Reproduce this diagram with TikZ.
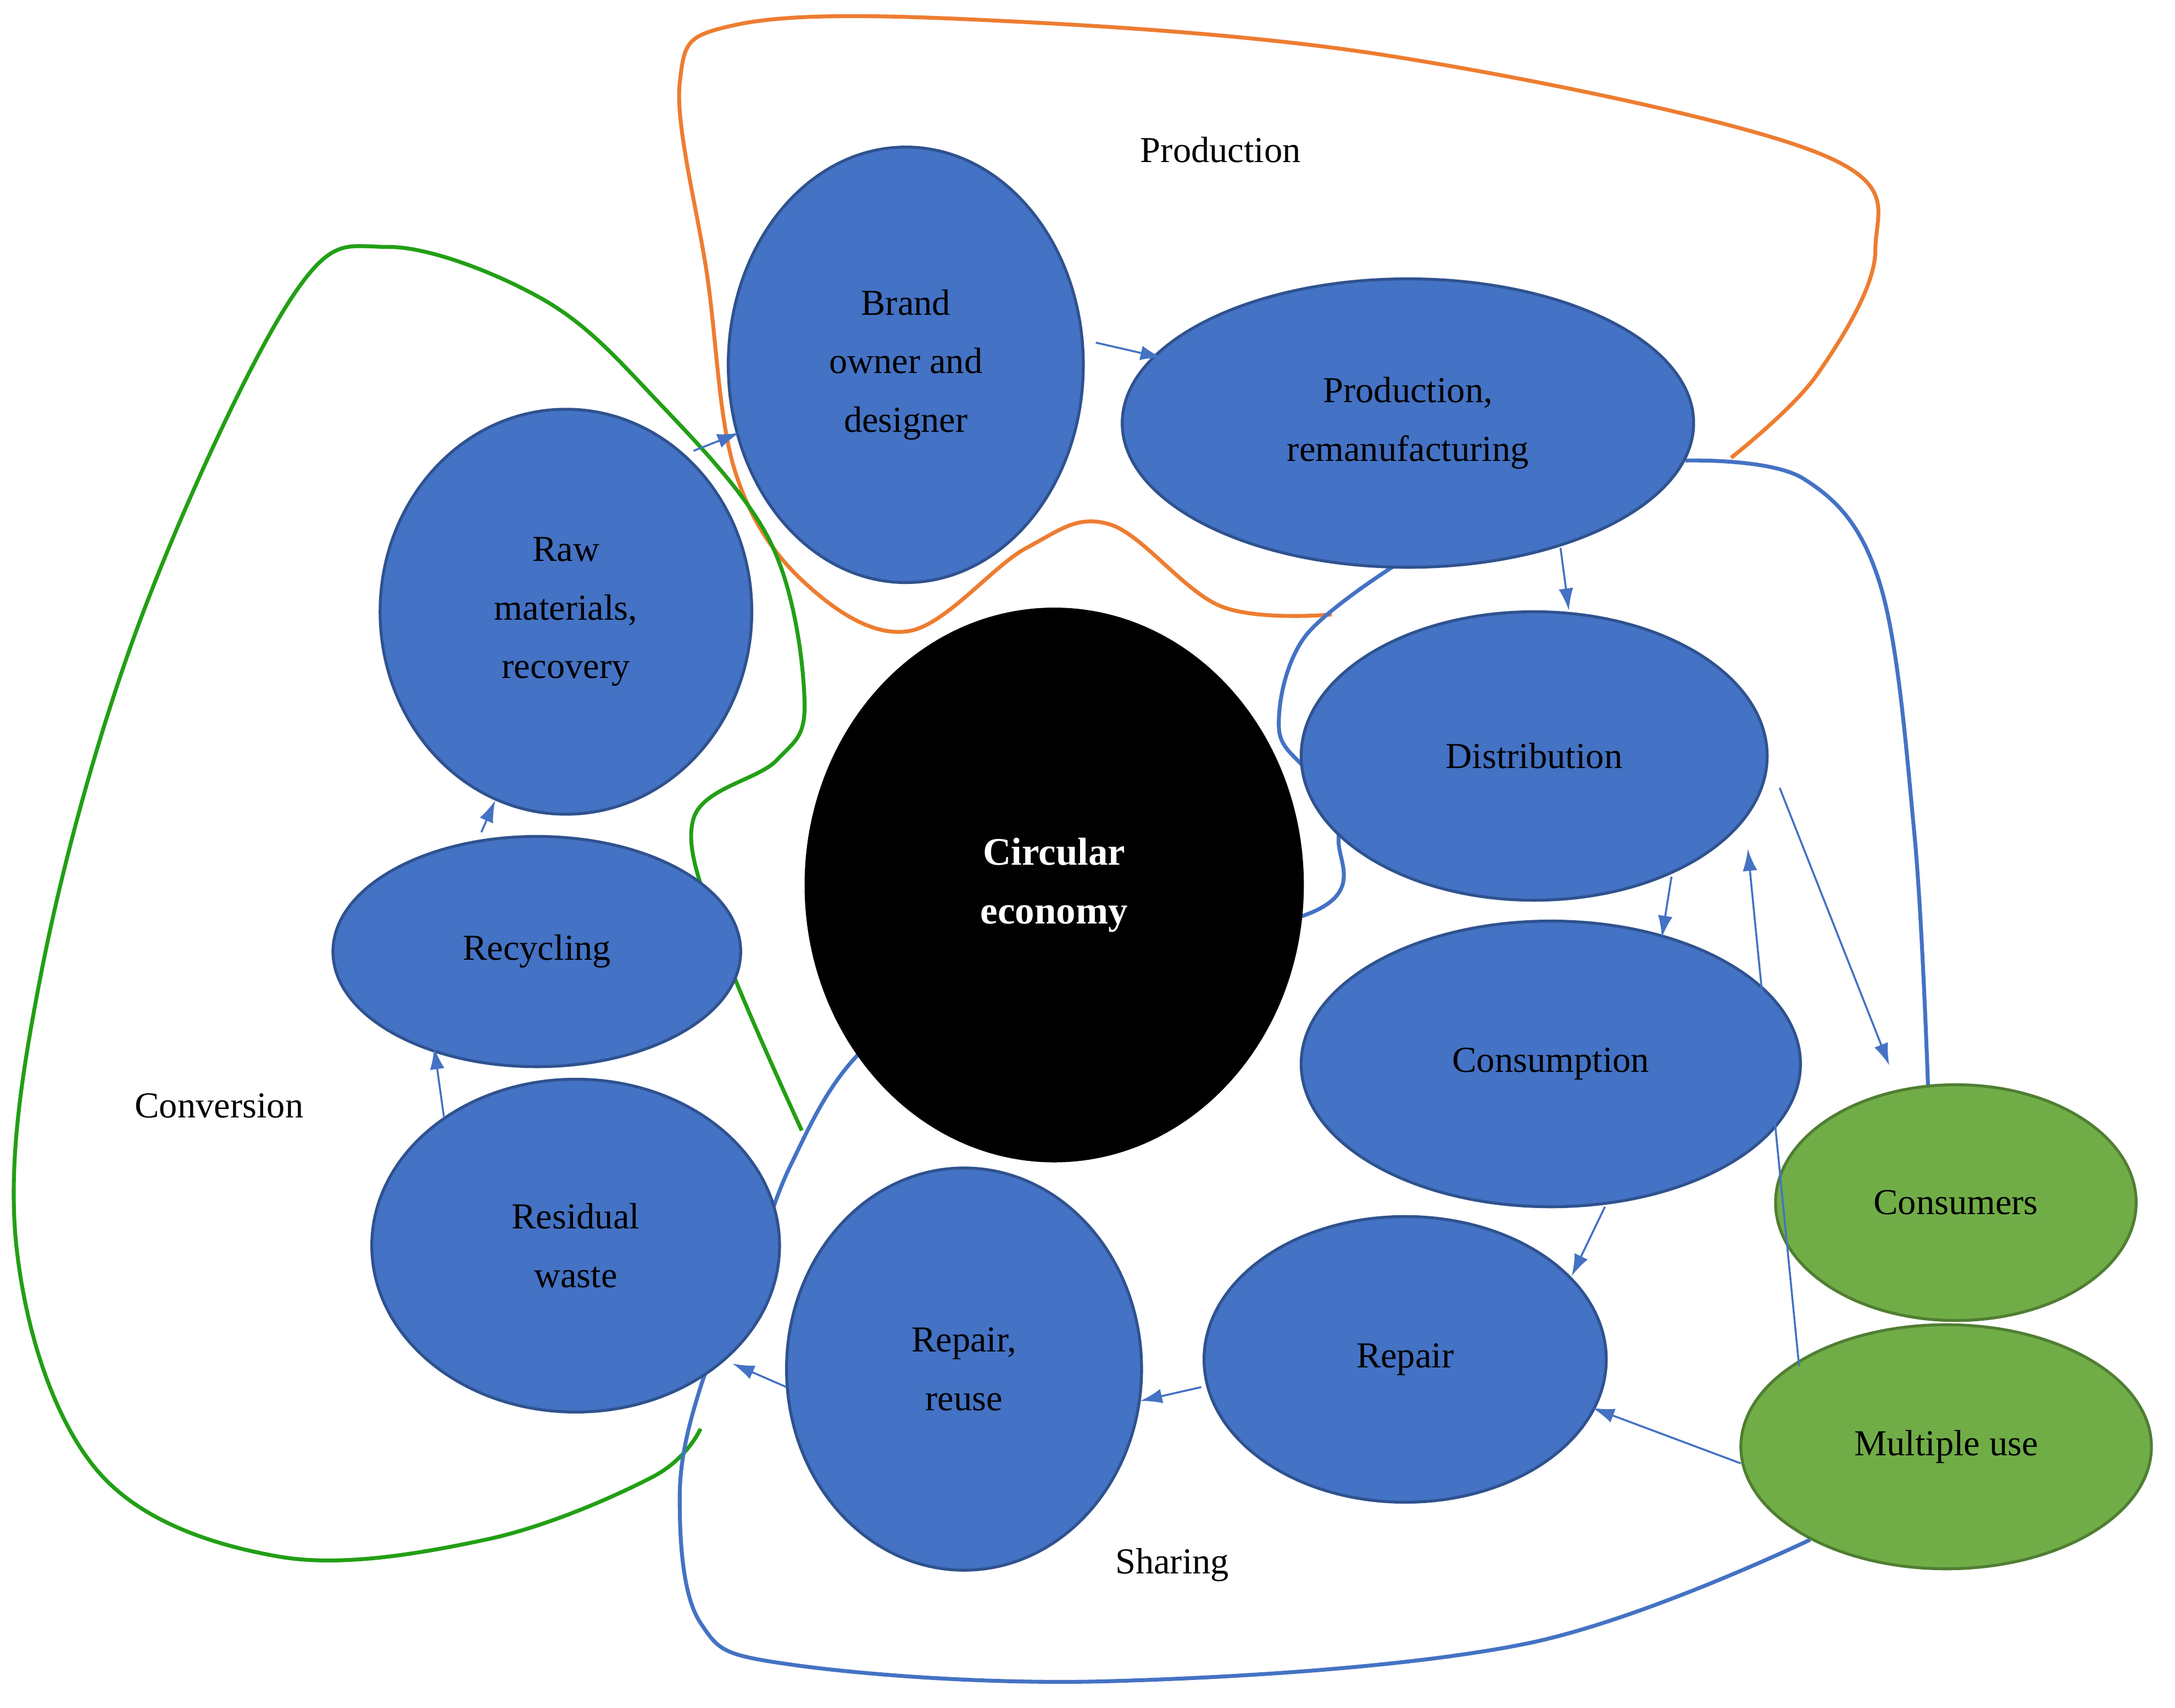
\documentclass[tikz,border=0pt]{standalone}
\usepackage{fontspec}
\setmainfont{Liberation Serif}
\usetikzlibrary{shapes.geometric,arrows.meta}
\definecolor{bfill}{HTML}{4472C4}
\definecolor{bdraw}{HTML}{2F528F}
\definecolor{gfill}{HTML}{70AD47}
\definecolor{gdraw}{HTML}{507E32}
\definecolor{oline}{HTML}{ED7D31}
\begin{document}
\begin{tikzpicture}[x=0.02cm,y=-0.02cm,
  bl/.style={ellipse,fill=bfill,draw=bdraw,line width=1.2pt,inner sep=0pt,align=center,font=\fontsize{15}{24}\selectfont},
  gr/.style={ellipse,fill=gfill,draw=gdraw,line width=1.2pt,inner sep=0pt,align=center,font=\fontsize{15}{24}\selectfont},
  ar/.style={-{Latex[length=9pt,width=6pt]},draw=bfill,line width=0.8pt},
  lab/.style={font=\fontsize{15}{20}\selectfont}]
\useasboundingbox (0,0) rectangle (1568,1231);
\fill[white] (0,0) rectangle (1568,1231);
% curves behind nodes
\draw[oline,line width=1.6pt] plot[smooth,tension=0.6] coordinates {(960,443) (880,437) (800,378) (740,395) (655,455) (580,420) (530,340) (510,200) (490,60) (530,18) (700,14) (1000,40) (1310,110) (1352,180) (1310,270) (1248,330)};
\draw[green!60!black!70!gfill,line width=1.6pt] plot[smooth,tension=0.6] coordinates {(578,815) (520,680) (500,590) (560,548) (580,505) (555,390) (470,285) (390,215) (280,178) (210,215) (100,450) (30,700) (12,900) (70,1060) (200,1122) (350,1110) (470,1065) (505,1030)};
\draw[bfill,line width=1.6pt] plot[smooth,tension=0.6] coordinates {(1215,332) (1300,345) (1355,420) (1380,600) (1390,785)};
\draw[bfill,line width=1.6pt] plot[smooth,tension=0.6] coordinates {(1005,408) (940,460) (922,525) (945,560) (965,605) (940,660) (700,700) (617,762) (570,840) (540,920) (505,1000) (490,1080) (505,1170) (570,1200) (800,1212) (1100,1185) (1305,1110)};
% nodes
\node[bl,minimum width=256\pgflinewidth*0+5.12cm,minimum height=6.28cm] (brand) at (653,263) {Brand\\owner and\\designer};
\node[bl,minimum width=8.24cm,minimum height=4.16cm] (prod) at (1015,305) {Production,\\remanufacturing};
\node[bl,minimum width=5.36cm,minimum height=5.84cm] (raw) at (408,441) {Raw\\materials,\\recovery};
\node[bl,minimum width=5.88cm,minimum height=3.32cm] (rec) at (387,686) {Recycling};
\node[bl,minimum width=5.88cm,minimum height=4.8cm] (res) at (415,898) {Residual\\waste};
\node[ellipse,fill=black,minimum width=7.2cm,minimum height=8cm,inner sep=0pt,align=center,text=white,font=\fontsize{16}{24}\selectfont\bfseries] (ce) at (760,638) {Circular\\economy};
\node[bl,minimum width=6.72cm,minimum height=4.16cm] (dist) at (1106,545) {Distribution};
\node[bl,minimum width=7.2cm,minimum height=4.12cm] (cons) at (1118,767) {Consumption};
\node[bl,minimum width=5.8cm,minimum height=4.12cm] (rep) at (1013,980) {Repair};
\node[bl,minimum width=5.12cm,minimum height=5.8cm] (rr) at (695,987) {Repair,\\reuse};
\node[gr,minimum width=5.2cm,minimum height=3.4cm] (cus) at (1410,867) {Consumers};
\node[gr,minimum width=5.92cm,minimum height=3.52cm] (mu) at (1403,1043) {Multiple use};
% arrows
\draw[ar] (790,247) -- (838,258);
\draw[ar] (500,325) -- (533,312);
\draw[ar] (347,600) -- (357,577);
\draw[ar] (320,805) -- (313,755);
\draw[ar] (567,1000) -- (528,983);
\draw[ar] (866,1000) -- (822,1010);
\draw[ar] (1157,870) -- (1133,920);
\draw[ar] (1205,632) -- (1198,676);
\draw[ar] (1125,395) -- (1131,440);
\draw[ar] (1283,568) -- (1362,768);
\draw[ar] (1297,985) -- (1260,612);
\draw[ar] (1255,1055) -- (1148,1015);
% labels
\node[lab] (lp) at (880,108) {Production};
\node[lab] (lc) at (158,797) {Conversion};
\node[lab] (ls) at (845,1128) {Sharing};
\end{tikzpicture}
\end{document}
